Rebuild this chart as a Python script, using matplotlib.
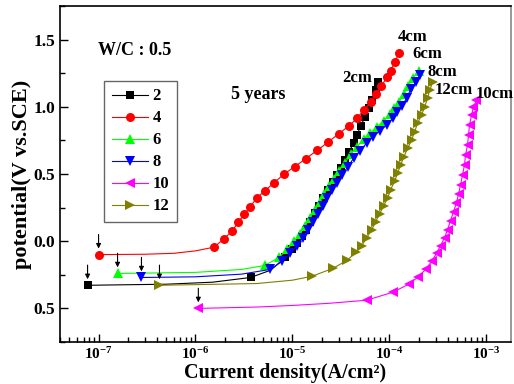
import numpy as np
import matplotlib
matplotlib.use('Agg')
import matplotlib.pyplot as plt
from matplotlib.ticker import LogLocator, MultipleLocator, NullFormatter, LogFormatterMathtext

plt.rcParams['font.family'] = ['Liberation Serif', 'DejaVu Serif']
plt.rcParams['font.weight'] = 'bold'
plt.rcParams['mathtext.fontset'] = 'custom'
plt.rcParams['mathtext.rm'] = 'Liberation Serif:bold'
plt.rcParams['mathtext.it'] = 'Liberation Serif:bold'
plt.rcParams['mathtext.bf'] = 'Liberation Serif:bold'

# marker points (current density A/cm2, potential V)
x2 = [7.7e-8, 3.7e-6, 8.4e-6, 9.9e-6, 1.11e-5, 1.26e-5, 1.38e-5, 1.52e-5, 1.71e-5, 1.88e-5,
      2.07e-5, 2.32e-5, 2.62e-5, 2.88e-5, 3.16e-5, 3.48e-5, 3.82e-5, 4.30e-5, 4.62e-5,
      5.08e-5, 5.58e-5, 6.14e-5, 6.59e-5, 7.24e-5, 7.6e-5]
y2 = [-0.328, -0.27, -0.121, -0.061, -0.010, 0.035, 0.087, 0.146, 0.213, 0.264,
      0.324, 0.383, 0.441, 0.494, 0.546, 0.605, 0.664, 0.731, 0.79,
      0.857, 0.924, 0.99, 1.05, 1.124, 1.183]

x4 = [1.0e-7, 1.56e-6, 1.98e-6, 2.39e-6, 2.75e-6, 3.18e-6, 3.66e-6, 4.33e-6, 5.22e-6,
      6.47e-6, 8.2e-6, 1.06e-5, 1.38e-5, 1.79e-5, 2.32e-5, 3.01e-5, 3.82e-5, 4.62e-5,
      5.46e-5, 6.44e-5, 7.3e-5, 8.3e-5, 9.4e-5, 1.03e-4, 1.14e-4, 1.25e-4]
y4 = [-0.10, -0.044, 0.02, 0.075, 0.14, 0.20, 0.257, 0.324, 0.376,
      0.435, 0.50, 0.555, 0.615, 0.675, 0.735, 0.80, 0.857, 0.913,
      0.976, 1.035, 1.094, 1.153, 1.22, 1.27, 1.33, 1.40]

x6 = [1.57e-7, 5.2e-6, 7.28e-6, 8.79e-6, 1.04e-5, 1.20e-5, 1.35e-5, 1.52e-5, 1.71e-5,
      1.92e-5, 2.11e-5, 2.38e-5, 2.68e-5, 3.01e-5, 3.48e-5, 4.01e-5, 4.62e-5, 5.46e-5,
      6.29e-5, 7.42e-5, 8.75e-5, 1.01e-4, 1.11e-4, 1.25e-4, 1.41e-4, 1.55e-4, 1.74e-4, 2.01e-4]
y6 = [-0.24, -0.18, -0.121, -0.061, -0.002, 0.057, 0.116, 0.176, 0.235,
      0.294, 0.353, 0.413, 0.464, 0.524, 0.583, 0.650, 0.701, 0.761,
      0.805, 0.850, 0.894, 0.946, 0.990, 1.035, 1.094, 1.153, 1.212, 1.264]

x8 = [2.77e-7, 5.89e-6, 7.82e-6, 9.44e-6, 1.11e-5, 1.29e-5, 1.45e-5, 1.63e-5, 1.83e-5,
      2.07e-5, 2.27e-5, 2.55e-5, 2.88e-5, 3.24e-5, 3.73e-5, 4.30e-5, 4.96e-5, 5.85e-5,
      6.75e-5, 7.97e-5, 9.40e-5, 1.08e-4, 1.19e-4, 1.34e-4, 1.51e-4, 1.66e-4, 1.87e-4, 2.06e-4]
y8 = [-0.27, -0.210, -0.150, -0.091, -0.032, 0.027, 0.087, 0.146, 0.205,
      0.264, 0.324, 0.383, 0.435, 0.494, 0.553, 0.620, 0.672, 0.731,
      0.776, 0.820, 0.864, 0.916, 0.961, 1.005, 1.064, 1.131, 1.183, 1.235]

x10 = [1.07e-6, 5.85e-5, 1.08e-4, 1.58e-4, 1.96e-4, 2.37e-4, 2.73e-4, 3.07e-4, 3.38e-4,
       3.72e-4, 3.99e-4, 4.28e-4, 4.60e-4, 4.93e-4, 5.18e-4, 5.43e-4, 5.69e-4, 5.97e-4,
       6.11e-4, 6.41e-4, 6.56e-4, 6.72e-4, 7.05e-4, 7.38e-4, 7.93e-4]
y10 = [-0.50, -0.439, -0.380, -0.321, -0.269, -0.210, -0.150, -0.091, -0.032,
       0.027, 0.087, 0.153, 0.220, 0.287, 0.353, 0.420, 0.494, 0.568,
       0.642, 0.716, 0.790, 0.864, 0.939, 0.998, 1.05]

x12 = [4.25e-7, 1.59e-5, 2.62e-5, 3.65e-5, 4.51e-5, 5.20e-5, 5.85e-5, 6.59e-5, 7.24e-5,
       7.97e-5, 8.75e-5, 9.63e-5, 1.03e-4, 1.14e-4, 1.22e-4, 1.31e-4, 1.41e-4, 1.55e-4,
       1.70e-4, 1.82e-4, 1.96e-4, 2.15e-4, 2.31e-4, 2.48e-4, 2.61e-4, 2.80e-4]
y12 = [-0.328, -0.261, -0.202, -0.143, -0.084, -0.032, 0.027, 0.087, 0.146,
       0.205, 0.264, 0.324, 0.383, 0.450, 0.509, 0.568, 0.627, 0.694,
       0.753, 0.813, 0.879, 0.939, 0.998, 1.064, 1.124, 1.183]

# points of the fitted line between the markers (no marker drawn)
lx2, ly2 = [5e-7, 1.5e-6, 6e-6], [-0.32, -0.305, -0.215]
lx4, ly4 = [3e-7, 6e-7, 1e-6], [-0.097, -0.09, -0.072]
lx6, ly6 = [1e-6, 3e-6], [-0.232, -0.21]
lx8, ly8 = [1e-6, 3e-6], [-0.265, -0.245]
lx10, ly10 = [4.3e-6, 1.0e-5, 2.4e-5], [-0.49, -0.478, -0.462]
lx12, ly12 = [4.3e-6, 1.0e-5], [-0.315, -0.29]

labels = ['2', '4', '6', '8', '10', '12']
cm_labels = ['2cm', '4cm', '6cm', '8cm', '10cm', '12cm']

series = [
    (x2, y2, lx2, ly2, 'black', 's', 5.5),
    (x4, y4, lx4, ly4, '#ff0000', 'o', 6.5),
    (x6, y6, lx6, ly6, '#00ff00', '^', 7),
    (x8, y8, lx8, ly8, '#0000ff', 'v', 7),
    (x10, y10, lx10, ly10, '#ff00ff', '<', 7),
    (x12, y12, lx12, ly12, '#808000', '>', 7),
]

fig = plt.figure(figsize=(5.14, 3.84), dpi=100)
ax = fig.add_axes([60 / 514, 42 / 384, 451 / 514, 336 / 384])

for lab, (xm, ym, xl, yl, c, m, ms) in zip(labels, series):
    x = np.concatenate([xm, xl])
    y = np.concatenate([ym, yl])
    mk = np.r_[np.ones(len(xm), bool), np.zeros(len(xl), bool)]
    order = np.argsort(x)
    idx = np.where(mk[order])[0].tolist()
    ax.plot(x[order], y[order], color=c, lw=0.8, marker=m, ms=ms,
            markeredgewidth=0, markevery=idx, label=lab)
    # arrow pointing at the corrosion potential
    ax.annotate('', xy=(xm[0], ym[0] + 0.045), xytext=(xm[0], ym[0] + 0.15),
                arrowprops=dict(arrowstyle='-|>', color='k', lw=0.8,
                                mutation_scale=7, shrinkA=0, shrinkB=0))

ax.set_xscale('log')
ax.set_xlim(4e-8, 1.8e-3)
ax.set_ylim(-0.75, 1.75)

ax.xaxis.set_major_locator(LogLocator(base=10, numticks=10))
ax.xaxis.set_major_formatter(LogFormatterMathtext())
ax.xaxis.set_minor_locator(LogLocator(base=10, subs=np.arange(2, 10), numticks=20))
ax.xaxis.set_minor_formatter(NullFormatter())
ax.set_yticks([-0.5, 0.0, 0.5, 1.0, 1.5])
ax.set_yticklabels(['0.5', '0.0', '0.5', '1.0', '1.5'])
ax.yaxis.set_minor_locator(MultipleLocator(0.25))

ax.tick_params(which='both', direction='in', top=False, right=False, width=1)
ax.tick_params(which='major', length=6)
ax.tick_params(which='minor', length=3.5)
ax.tick_params(axis='y', labelsize=12.5)
ax.tick_params(axis='x', labelsize=11, pad=3)
for s in ax.spines.values():
    s.set_linewidth(1.2)
ax.spines['right'].set_color('#888888')

ax.set_xlabel('Current density(A/cm²)', fontsize=14.5, fontweight='bold', labelpad=1)
ax.set_ylabel('potential(V vs.SCE)', fontsize=16, fontweight='bold', labelpad=1)

leg = ax.legend(loc='upper left', bbox_to_anchor=(0.0976, 0.777), borderaxespad=0,
                fontsize=12, handlelength=2.2, labelspacing=0.36, fancybox=False,
                edgecolor='#666666', framealpha=1, borderpad=0.45, handletextpad=0.25)
leg.get_frame().set_linewidth(1.0)

ax.text(0.084, 0.869, 'W/C : 0.5', transform=ax.transAxes, fontsize=13,
        fontweight='bold', va='center', ha='left')
ax.text(0.379, 0.738, '5 years', transform=ax.transAxes, fontsize=13,
        fontweight='bold', va='center', ha='left')

cm_pos = {'2cm': (6.59e-5, 1.213, 'right'), '4cm': (1.22e-4, 1.516, 'left'),
          '6cm': (1.74e-4, 1.39, 'left'), '8cm': (2.48e-4, 1.257, 'left'),
          '10cm': (7.74e-4, 1.094, 'left'), '12cm': (2.93e-4, 1.124, 'left')}
for t in cm_labels:
    xp, yp, ha = cm_pos[t]
    ax.text(xp, yp, t, fontsize=12, fontweight='bold', ha=ha, va='center', clip_on=False)

fig.savefig('out.png', dpi=100)
